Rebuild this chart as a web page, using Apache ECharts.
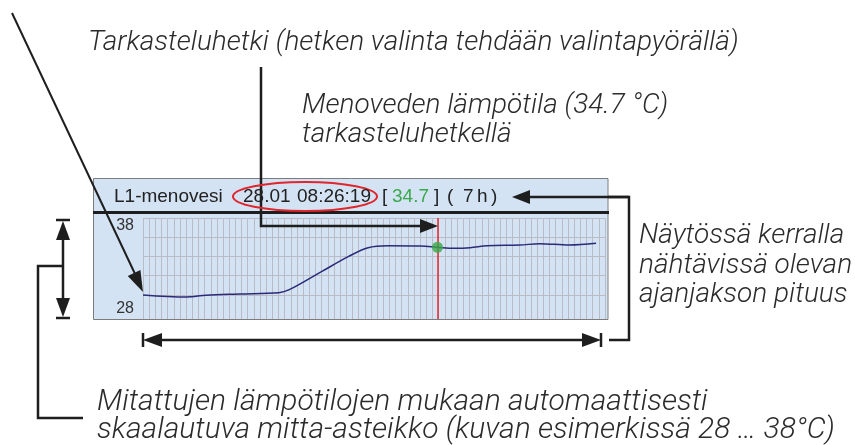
<!DOCTYPE html>
<html><head><meta charset="utf-8">
<script src="https://cdn.jsdelivr.net/npm/echarts@6/dist/echarts.min.js"></script>
<style>html,body{margin:0;padding:0;background:#fff}#c{width:855px;height:445px}</style>
</head><body><div id="c"></div>
<script>
// ---- data ----
const minutes = [0, 39.4, 57.4, 87.4, 123.5, 132.5, 162.2, 186.6, 204.6, 222.6, 252.4, 267.7, 283.0, 297.4, 312.8, 342.5, 360.5, 387.6, 411.9];
const temps   = [30.0, 29.79, 29.97, 30.10, 30.24, 30.52, 32.42, 33.98, 34.91, 35.12, 35.09, 34.96, 34.85, 34.91, 35.12, 35.19, 35.33, 35.19, 35.37];
const cursorMinute = 267.7;
const cursorTemp = 34.96;
const yGridValues = [30, 32, 34, 36, 38];
const yTickLabels = ['38', '28'];
const yTickValues = [38, 28];
const headerName = 'L1-menovesi';
const headerDate = '28.01';
const headerTime = '08:26:19';
const headerValue = '34.7';
const headerSpan = ['(', '7', 'h', ')'];
const noteCursor = 'Tarkasteluhetki (hetken valinta tehdään valintapyörällä)';
const noteValue = ['Menoveden lämpötila (34.7 °C)', 'tarkasteluhetkellä'];
const noteSpan = ['Näytössä kerralla', 'nähtävissä olevan', 'ajanjakson pituus'];
const noteScale = ['Mitattujen lämpötilojen mukaan automaattisesti', 'skaalautuva mitta-asteikko (kuvan esimerkissä 28 … 38°C)'];

const chart = echarts.init(document.getElementById('c'), null, {renderer: 'canvas'});
const ink = '#1e1e1e';
const noteFont = {fontFamily: 'Roboto, "Liberation Sans", sans-serif', fontStyle: 'italic', fontWeight: 300, fontSize: 28, fill: '#2b2b2b'};
const noteFontBig = Object.assign({}, noteFont, {fontSize: 30});
const hdrFont = {fontFamily: '"Liberation Sans", Arial, sans-serif', fontSize: 19, fill: '#222'};
const PR = 608; // panel right edge

function head(tx, ty, fx, fy, len, hw) {
  const dx = tx - fx, dy = ty - fy, d = Math.hypot(dx, dy);
  const ux = dx / d, uy = dy / d, bx = tx - ux * len, by = ty - uy * len;
  return {type: 'polygon', z: 20, shape: {points: [[tx, ty], [bx - uy * hw, by + ux * hw], [bx + uy * hw, by - ux * hw]]}, style: {fill: ink}};
}
function line(x1, y1, x2, y2, w) {
  return {type: 'line', z: 20, shape: {x1, y1, x2, y2}, style: {stroke: ink, lineWidth: w || 2.5}};
}
function poly(points, w) {
  return {type: 'polyline', z: 20, shape: {points}, style: {stroke: ink, lineWidth: w || 2.5, fill: null}};
}
function txt(x, y, s, st) {
  return {type: 'text', z: 25, x, y, style: Object.assign({text: s, textVerticalAlign: 'middle'}, st)};
}

const option = {
  animation: false,
  grid: {left: 143, right: 855 - 605, top: 218, bottom: 126, show: false},
  xAxis: {type: 'value', min: 0, max: 420, interval: 5.6,
    axisLine: {show: false}, axisTick: {show: false}, axisLabel: {show: false},
    splitLine: {show: true, lineStyle: {color: '#b9bcc5', width: 1}}},
  yAxis: {type: 'value', min: 27.5, max: 38,
    axisLine: {show: false}, axisTick: {show: false}, axisLabel: {show: false}, splitLine: {show: false}},
  series: [
    {type: 'line', data: minutes.map((m, i) => [m, temps[i]]), smooth: 0.35, showSymbol: false,
      lineStyle: {color: '#2a2a78', width: 1.5}, z: 5,
      markLine: {silent: true, symbol: 'none', label: {show: false}, animation: false,
        data: yGridValues.map(v => ({yAxis: v, lineStyle: {color: '#b9bcc5', width: 1, type: 'solid'}}))
          .concat([{xAxis: cursorMinute, lineStyle: {color: '#e8262b', width: 1.5, type: 'solid'}}])}},
    {type: 'scatter', data: [[cursorMinute, cursorTemp]], symbolSize: 11, itemStyle: {color: '#3aa84a'}, z: 8}
  ]
};
chart.setOption(option);

const yl = yTickValues.map(v => chart.convertToPixel({yAxisIndex: 0}, v));
const lblFont = {fontFamily: '"Liberation Sans", Arial, sans-serif', fontSize: 16, fill: '#333', textAlign: 'right'};
const g = [
  {type: 'rect', z: -10, shape: {x: 93.5, y: 178.5, width: PR - 93.5, height: 141}, style: {fill: '#d4e3f4', stroke: '#7c7c7c', lineWidth: 1}},
  line(93, 212.5, PR + 1, 212.5, 3.2),
  txt(134, yl[0] + 8, yTickLabels[0], lblFont),
  txt(134, yl[1] - 6, yTickLabels[1], lblFont),
  // header
  txt(114, 196.5, headerName, hdrFont),
  txt(243, 196.5, headerDate, hdrFont),
  txt(297, 196.5, headerTime, hdrFont),
  txt(382, 196.5, '[', hdrFont),
  txt(392, 196.5, headerValue, Object.assign({}, hdrFont, {fill: '#3aa84a'})),
  txt(434, 196.5, ']', hdrFont),
  txt(447, 196.5, headerSpan[0], hdrFont),
  txt(463, 196.5, headerSpan[1], hdrFont),
  txt(477, 196.5, headerSpan[2], hdrFont),
  txt(491, 196.5, headerSpan[3], hdrFont),
  {type: 'ellipse', z: 22, shape: {cx: 305, cy: 196.5, rx: 72, ry: 14.5}, style: {fill: null, stroke: '#e0262c', lineWidth: 2}},
  // header span arrow + right bracket
  line(526, 197, 629, 197, 2.5), head(512, 197, 540, 197, 18, 7),
  poly([[PR, 197], [629, 197], [629, 340], [609, 340]], 2.5),
  // bottom double arrow
  line(158, 340, 587, 340, 2.5), head(143, 340, 170, 340, 19, 7), head(601, 340, 570, 340, 19, 7),
  line(143, 333, 143, 347, 2.5), line(601, 333, 601, 347, 2.5),
  // left vertical double arrow + bracket
  line(63, 236, 63, 302, 2.5), head(63, 221, 63, 250, 19, 7), head(63, 317, 63, 290, 19, 7),
  line(56, 220, 70, 220, 2.5), line(56, 318, 70, 318, 2.5),
  poly([[63, 266], [38, 266], [38, 418], [83, 418]], 2.5),
  // diagonal arrow
  line(12, 13, 136, 276, 2), head(143, 292, 12, 13, 21, 7),
  // cursor arrow
  poly([[261, 67], [261, 226], [424, 226]], 2.5), head(438, 226, 400, 226, 18, 7),
  // notes
  txt(88, 43, noteCursor, noteFont),
  txt(302, 106, noteValue[0], noteFont),
  txt(302, 135, noteValue[1], noteFont),
  txt(639, 236, noteSpan[0], noteFont),
  txt(639, 266, noteSpan[1], noteFont),
  txt(639, 295, noteSpan[2], noteFont),
  txt(97, 402, noteScale[0], noteFontBig),
  txt(97, 430, noteScale[1], noteFontBig)
];
chart.setOption({graphic: {elements: g}});
</script></body></html>
